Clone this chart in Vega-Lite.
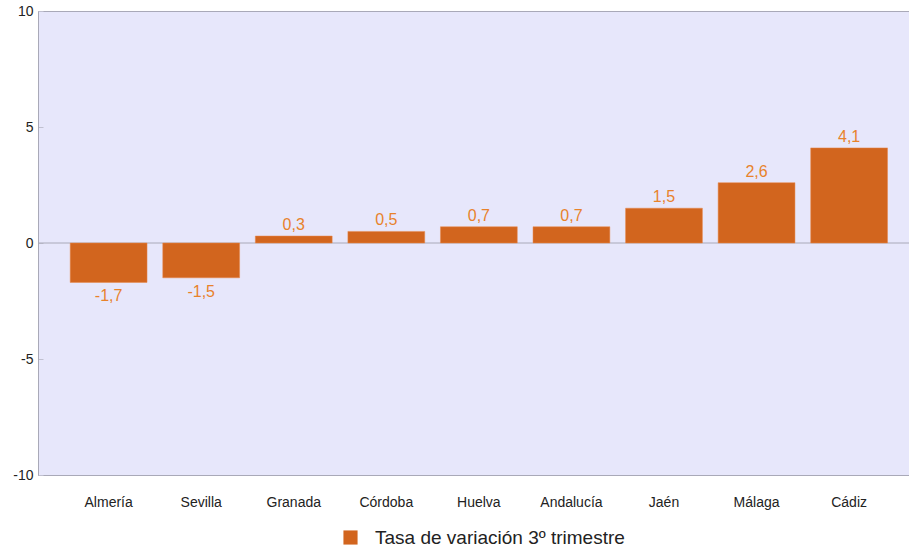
{
  "$schema": "https://vega.github.io/schema/vega-lite/v6.json",
  "width": 871,
  "height": 464,
  "autosize": "none",
  "padding": {"left": 38, "top": 11, "right": 0, "bottom": 72},
  "background": "#ffffff",
  "config": {
    "font": "Liberation Sans",
    "view": {"stroke": "#a9a9b8", "strokeWidth": 1, "fill": "#e7e7fb"},
    "locale": {"number": {"decimal": ",", "thousands": ".", "grouping": [3], "currency": ["", " €"], "minus": "-"}}
  },
  "data": {"values": [
    {"provincia": "Almería", "valor": -1.7, "serie": "Tasa de variación 3º trimestre"},
    {"provincia": "Sevilla", "valor": -1.5, "serie": "Tasa de variación 3º trimestre"},
    {"provincia": "Granada", "valor": 0.3, "serie": "Tasa de variación 3º trimestre"},
    {"provincia": "Córdoba", "valor": 0.5, "serie": "Tasa de variación 3º trimestre"},
    {"provincia": "Huelva", "valor": 0.7, "serie": "Tasa de variación 3º trimestre"},
    {"provincia": "Andalucía", "valor": 0.7, "serie": "Tasa de variación 3º trimestre"},
    {"provincia": "Jaén", "valor": 1.5, "serie": "Tasa de variación 3º trimestre"},
    {"provincia": "Málaga", "valor": 2.6, "serie": "Tasa de variación 3º trimestre"},
    {"provincia": "Cádiz", "valor": 4.1, "serie": "Tasa de variación 3º trimestre"}
  ]},
  "encoding": {
    "x": {
      "field": "provincia", "type": "nominal", "sort": null,
      "scale": {"paddingInner": 0.17, "paddingOuter": 0.29, "align": 0.6},
      "axis": {"title": null, "labelAngle": 0, "ticks": false, "domain": false, "labelFontSize": 14, "labelColor": "#222222", "labelPadding": 20}
    },
    "y": {
      "field": "valor", "type": "quantitative",
      "scale": {"domain": [-10, 10], "nice": false},
      "axis": {"title": null, "values": [-10, -5, 0, 5, 10], "format": "d", "grid": false, "domainColor": "#a9a9b8", "tickColor": "#c0c0d0", "tickSize": -5, "labelFontSize": 14, "labelColor": "#222222", "labelPadding": 10}
    }
  },
  "layer": [
    {
      "mark": {"type": "rule", "color": "#a9a9b8", "strokeWidth": 1},
      "data": {"values": [{"cero": 0}]},
      "encoding": {"y": {"field": "cero", "type": "quantitative"}, "x": null}
    },
    {
      "mark": {"type": "bar", "stroke": "#e8894a", "strokeWidth": 0.5},
      "encoding": {
        "color": {
          "field": "serie", "type": "nominal",
          "scale": {"range": ["#d2651e"]},
          "legend": {"title": null, "orient": "none", "legendX": 303, "legendY": 517, "symbolType": "square", "symbolSize": 200, "labelFontSize": 19, "labelLimit": 500, "labelColor": "#222222", "labelOffset": 15, "symbolStrokeWidth": 0}
        }
      }
    },
    {
      "transform": [{"filter": "datum.valor >= 0"}],
      "mark": {"type": "text", "baseline": "bottom", "dy": -3, "fontSize": 16, "color": "#e8822b"},
      "encoding": {"text": {"field": "valor", "type": "quantitative", "format": ".1f"}}
    },
    {
      "transform": [{"filter": "datum.valor < 0"}],
      "mark": {"type": "text", "baseline": "top", "dy": 6, "fontSize": 16, "color": "#e8822b"},
      "encoding": {"text": {"field": "valor", "type": "quantitative", "format": ".1f"}}
    }
  ]
}
